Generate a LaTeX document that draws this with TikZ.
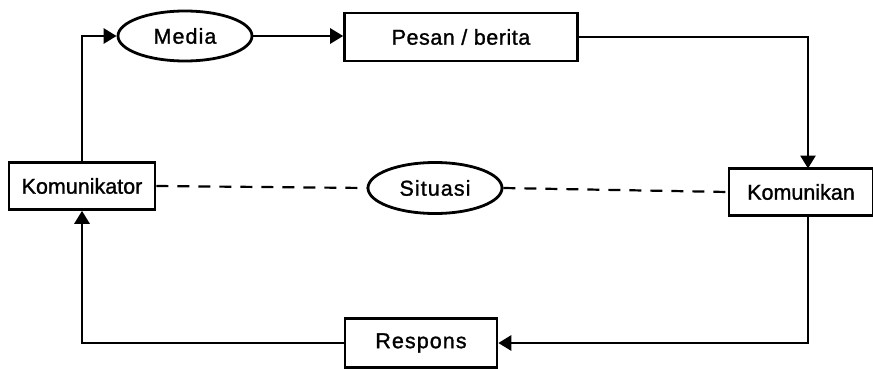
\documentclass[tikz,border=0pt]{standalone}
\usepackage{fontspec}
\setmainfont{Liberation Sans}[FakeBold=1.2]
\newfontfamily\spacedA{Liberation Sans}[LetterSpace=5,FakeBold=1.2]
\newfontfamily\spacedB{Liberation Sans}[LetterSpace=2.5,FakeBold=1.2]
\usetikzlibrary{shapes.geometric,arrows.meta}
\begin{document}
\begin{tikzpicture}[x=1pt,y=-1pt,
  box/.style={draw,line width=2.6pt,rectangle,inner sep=0pt,font=\fontsize{21.5}{24}\selectfont},
  oval/.style={draw,line width=2.8pt,ellipse,inner sep=0pt,font=\fontsize{21.5}{24}\selectfont\spacedA},
  flow/.style={line width=2.8pt,-{Triangle[length=13pt,width=15pt]}},
  dashline/.style={line width=2.2pt,dash pattern=on 12pt off 9pt}]
\useasboundingbox (0,0) rectangle (873,369);
\node[box,minimum width=146pt,minimum height=47pt] (kor) at (82,186) {Komunikator};
\node[oval,minimum width=134pt,minimum height=50pt] (med) at (185,36) {Media};
\node[box,minimum width=233pt,minimum height=48pt,font=\fontsize{21.5}{24}\selectfont\spacedB] (pes) at (461,37) {Pesan / berita};
\node[box,minimum width=144pt,minimum height=47pt] (kan) at (801,192) {Komunikan};
\node[oval,minimum width=134pt,minimum height=51pt] (sit) at (435,188) {Situasi};
\node[box,minimum width=152pt,minimum height=49pt,font=\fontsize{21.5}{24}\selectfont\spacedA] (res) at (421,343) {Respons};
\coordinate (kantop) at (808,168.5);
\coordinate (kanbot) at (808,215.5);
\draw[flow] (kor.north) |- (med.west);
\draw[flow] (med.east) -- (pes.west|-med.east);
\draw[flow] (pes.east) -| (kantop);
\draw[flow] (kanbot) |- (res.east);
\draw[flow] (res.west) -| (kor.south);
\draw[dashline] (kor.east) -- (sit.west);
\draw[dashline] (sit.east) -- (kan.west);
\end{tikzpicture}
\end{document}
